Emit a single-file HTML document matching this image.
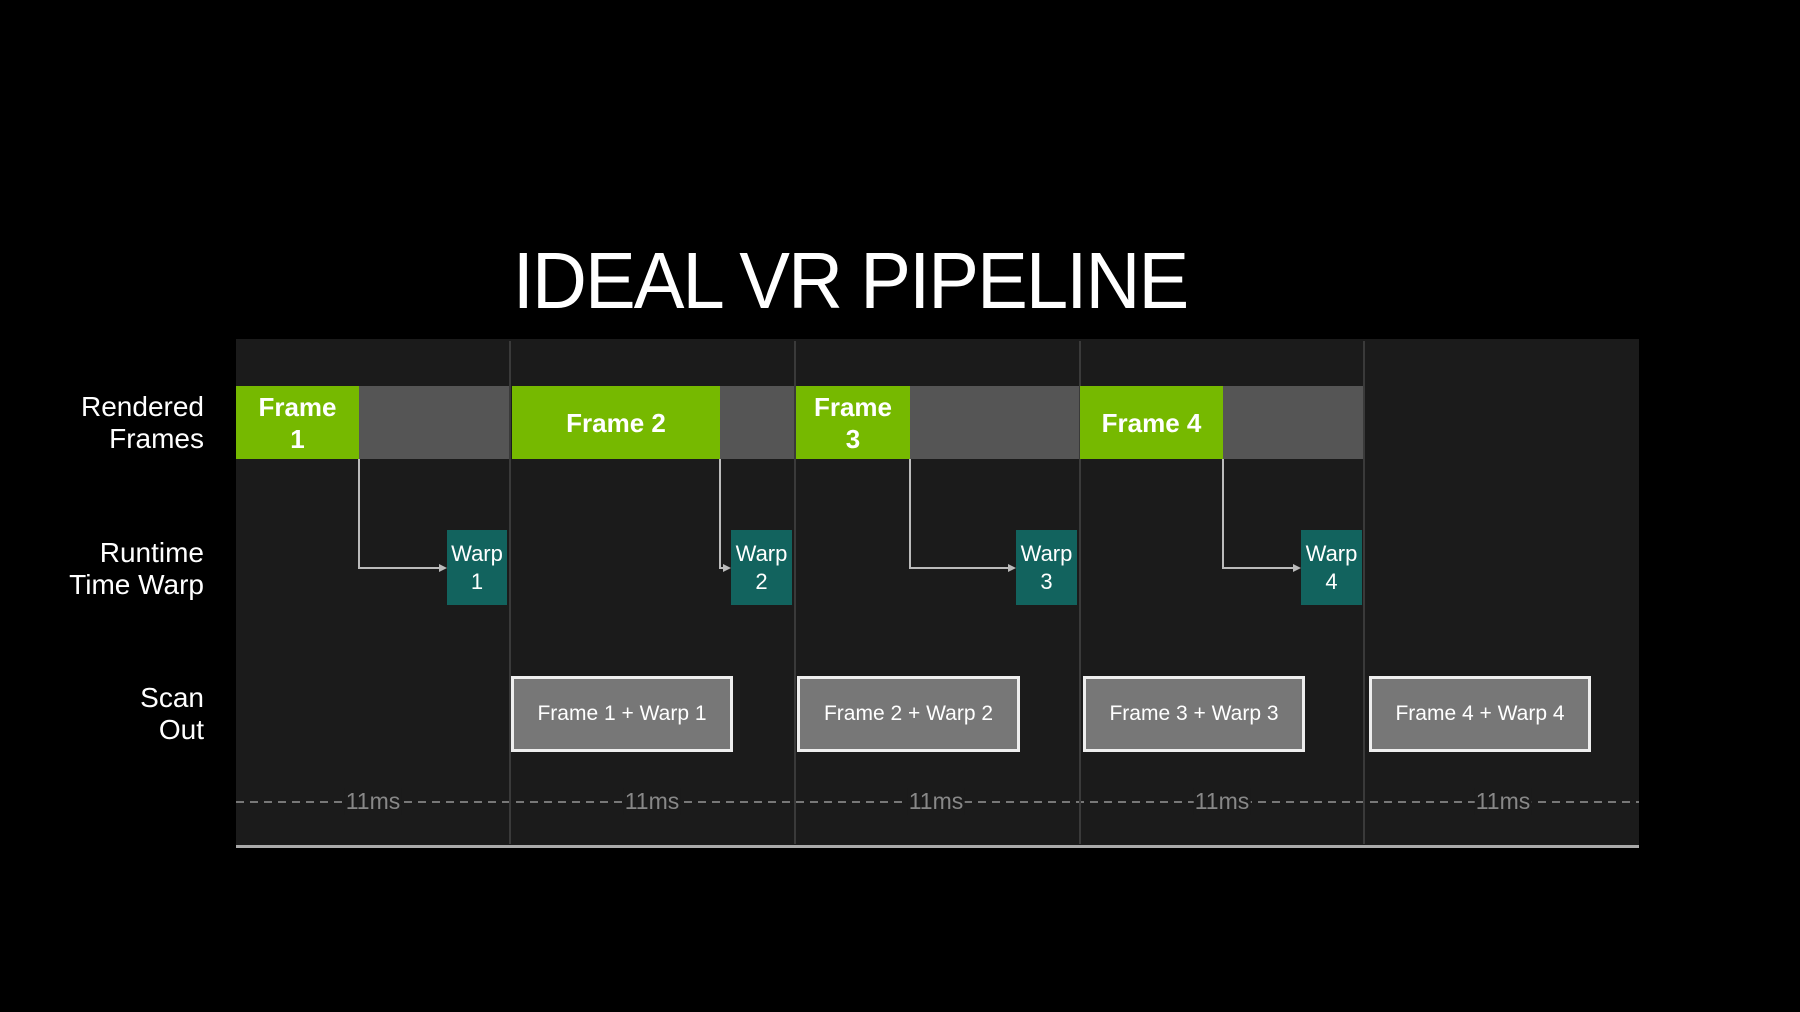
<!DOCTYPE html>
<html><head><meta charset="utf-8"><style>
body{margin:0;width:1800px;height:1012px;background:#000;position:relative;overflow:hidden;font-family:"Liberation Sans","DejaVu Sans",sans-serif;color:#fff}
div{position:absolute;box-sizing:border-box}
.title{left:0;width:1700px;top:236px;text-align:center;font-size:80px;line-height:90px;letter-spacing:-2px;transform:scaleX(0.95)}
.panel{left:236px;top:339px;width:1403px;height:507px;background:#1b1b1b}
.bl{left:236px;top:845px;width:1403px;height:3px;background:#aaa}
.div{top:341px;height:503px;width:2px;background:#3a3a3a}
.g{top:386px;height:73px;background:#76b900;display:flex;align-items:center;justify-content:center;text-align:center;font-weight:bold;font-size:26px;line-height:32px}
.gr{top:386px;height:73px;background:#555}
.w{top:530px;height:75px;background:#12635e;display:flex;align-items:center;justify-content:center;text-align:center;font-size:22px;line-height:28px}
.s{top:676px;height:76px;background:#777;border:3px solid #eee;display:flex;align-items:center;justify-content:center;font-size:21px}
.lab{right:1596px;text-align:right;font-size:28px;line-height:32px}
.ms{top:788px;font-size:23px;color:#888;background:#1b1b1b;padding:0 1px;transform:translateX(-50%)}
</style></head><body>
<div class="title">IDEAL VR PIPELINE</div>
<div class="panel"></div>
<div class="bl"></div>
<div class="lab" style="top:391px">Rendered<br>Frames</div>
<div class="lab" style="top:537px">Runtime<br>Time Warp</div>
<div class="lab" style="top:682px">Scan<br>Out</div>
<svg style="position:absolute;left:0;top:0" width="1800" height="1012">
<line x1="236" y1="802" x2="1639" y2="802" stroke="#777" stroke-width="2" stroke-dasharray="8,6"/>
<g stroke="#bbb" stroke-width="2" fill="none">
<polyline points="359,459 359,568 440,568"/>
<polyline points="720,459 720,568 724,568"/>
<polyline points="910,459 910,568 1009,568"/>
<polyline points="1223,459 1223,568 1294,568"/>
</g>
<g fill="#bbb">
<polygon points="447,568 439,564 439,572"/>
<polygon points="731,568 723,564 723,572"/>
<polygon points="1016,568 1008,564 1008,572"/>
<polygon points="1301,568 1293,564 1293,572"/>
</g>
</svg>
<div class="div" style="left:509px"></div>
<div class="div" style="left:794px"></div>
<div class="div" style="left:1079px"></div>
<div class="div" style="left:1363px"></div>
<div class="g" style="left:236px;width:123px">Frame<br>1</div>
<div class="gr" style="left:359px;width:150px"></div>
<div class="g" style="left:512px;width:208px">Frame 2</div>
<div class="gr" style="left:720px;width:74px"></div>
<div class="g" style="left:796px;width:114px">Frame<br>3</div>
<div class="gr" style="left:910px;width:169px"></div>
<div class="g" style="left:1080px;width:143px">Frame 4</div>
<div class="gr" style="left:1223px;width:140px"></div>
<div class="w" style="left:447px;width:60px">Warp<br>1</div>
<div class="w" style="left:731px;width:61px">Warp<br>2</div>
<div class="w" style="left:1016px;width:61px">Warp<br>3</div>
<div class="w" style="left:1301px;width:61px">Warp<br>4</div>
<div class="s" style="left:511px;width:222px">Frame 1 + Warp 1</div>
<div class="s" style="left:797px;width:223px">Frame 2 + Warp 2</div>
<div class="s" style="left:1083px;width:222px">Frame 3 + Warp 3</div>
<div class="s" style="left:1369px;width:222px">Frame 4 + Warp 4</div>
<div class="ms" style="left:373px">11ms</div>
<div class="ms" style="left:652px">11ms</div>
<div class="ms" style="left:936px">11ms</div>
<div class="ms" style="left:1222px">11ms</div>
<div class="ms" style="left:1503px">11ms</div>
</body></html>
